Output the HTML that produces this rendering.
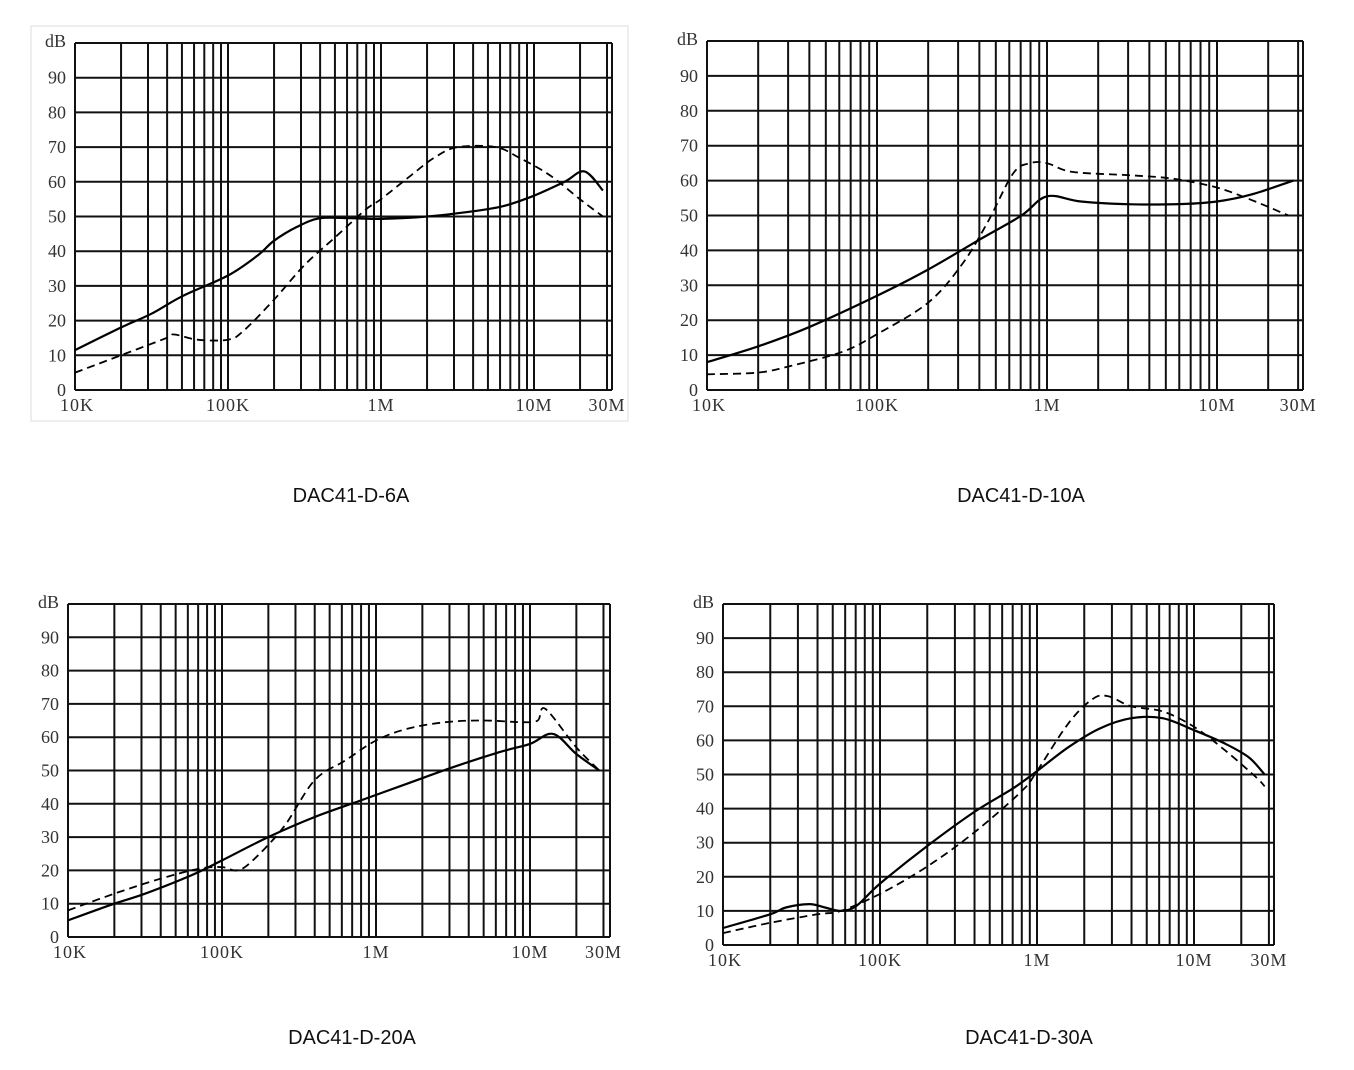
<!DOCTYPE html>
<html><head><meta charset="utf-8"><style>
html,body{margin:0;padding:0;background:#fff;}
svg{display:block;}
</style></head><body>
<svg id="s" width="1354" height="1070" xmlns="http://www.w3.org/2000/svg"></svg>
<script>
const s=document.getElementById('s');
let h='<rect x="31" y="26" width="597" height="395" fill="none" stroke="#ddd" stroke-width="1"/>';
const charts=[
{l:75,r:612,t:43,b:390,dec:153,title:'DAC41-D-6A',tx:351,ty:495,
 solid:[[0,11.5],[0.3,18],[0.5,22],[0.7,27],[1.0,33],[1.2,39],[1.3,43],[1.45,47],[1.6,49.5],[1.8,49.5],[2.0,49.3],[2.3,50],[2.6,51.5],[2.8,53],[3.0,56],[3.2,60],[3.33,63],[3.45,57.5]],
 dash:[[0,5],[0.3,10],[0.6,15],[0.65,16],[0.8,14.5],[1.0,14.5],[1.1,17],[1.3,26],[1.5,36],[1.7,44],[1.9,52],[2.0,55],[2.2,62],[2.35,67],[2.5,70],[2.75,70],[2.9,67],[3.1,62],[3.3,55],[3.45,50]]},
{l:707,r:1303,t:41,b:390,dec:170,title:'DAC41-D-10A',tx:1021,ty:495,
 solid:[[0,8],[0.3,12.5],[0.6,18],[1.0,27],[1.3,34.5],[1.6,43],[1.85,50],[2.0,55.5],[2.2,54],[2.5,53.2],[2.8,53.3],[3.0,54],[3.2,56],[3.45,60]],
 dash:[[0,4.5],[0.3,5],[0.5,7],[0.8,11],[1.0,16],[1.3,25],[1.5,36],[1.65,48],[1.8,62],[1.9,65],[2.0,65],[2.15,62.5],[2.5,61.5],[2.75,60.5],[3.0,58],[3.2,54.5],[3.42,50]]},
{l:68,r:610,t:604,b:937,dec:154,title:'DAC41-D-20A',tx:352,ty:1037,
 solid:[[0,5],[0.3,10],[0.5,13],[0.8,18.5],[1.0,23],[1.3,30],[1.6,36],[1.9,41],[2.2,46],[2.5,51],[2.8,55.5],[3.0,58],[3.15,61],[3.3,55],[3.45,50]],
 dash:[[0,8],[0.3,13],[0.6,17.5],[0.85,20.5],[1.0,21],[1.1,20],[1.2,23],[1.4,33],[1.6,47],[1.8,53],[2.0,59],[2.2,62.5],[2.45,64.5],[2.7,65],[2.95,64.5],[3.05,65],[3.1,68.5],[3.3,57],[3.45,50]]},
{l:723,r:1274,t:604,b:945,dec:157,title:'DAC41-D-30A',tx:1029,ty:1037,
 solid:[[0,5],[0.3,9],[0.4,11],[0.55,12],[0.65,11],[0.75,10],[0.85,11.5],[1.0,18],[1.3,29],[1.6,39],[1.85,46],[2.0,51],[2.2,58],[2.4,63.5],[2.6,66.5],[2.8,66.5],[3.0,63],[3.2,59],[3.35,55],[3.45,50]],
 dash:[[0,3.5],[0.3,6.5],[0.6,9],[0.75,10],[1.0,15],[1.3,23],[1.6,33],[1.9,45],[2.0,51],[2.2,65],[2.35,72],[2.45,73],[2.6,70],[2.8,68.5],[3.0,64],[3.2,57],[3.4,49],[3.45,46.5]]}
];
for(const c of charts){
 const X=d=>c.l+d*c.dec, Y=v=>c.b-(c.b-c.t)*v/100;
 for(let i=0;i<=10;i++){const y=Y(i*10);h+=`<line x1="${c.l}" x2="${c.r}" y1="${y}" y2="${y}" stroke="#111" stroke-width="2"/>`;}
 const xs=[c.l,c.r];
 for(let dcd=0;dcd<4;dcd++)for(let m=1;m<=9;m++){const d=dcd+Math.log10(m);if(d>0&&d<3.48)xs.push(X(d));}
 for(const x of xs)h+=`<line x1="${x}" x2="${x}" y1="${c.t}" y2="${c.b}" stroke="#111" stroke-width="2"/>`;
 const fs='font-family="Liberation Serif, serif" font-size="18" fill="#333"';
 for(let i=0;i<=9;i++)h+=`<text x="${c.l-9}" y="${Y(i*10)+6}" text-anchor="end" ${fs}>${i*10}</text>`;
 h+=`<text x="${c.l-9}" y="${c.t+4}" text-anchor="end" ${fs} font-size="15">dB</text>`;
 const xl=[['10K',0],['100K',1],['1M',2],['10M',3],['30M',3.477]];
 for(const [t,d] of xl)h+=`<text x="${X(d)+(d==0?2:0)}" y="${c.b+21}" text-anchor="middle" ${fs} letter-spacing="1">${t}</text>`;
 const path=pts=>{const P=pts.map(q=>[X(q[0]),Y(q[1])]);let p='M'+P[0][0].toFixed(1)+','+P[0][1].toFixed(1);
  for(let i=0;i<P.length-1;i++){const p0=P[Math.max(0,i-1)],p1=P[i],p2=P[i+1],p3=P[Math.min(P.length-1,i+2)];
   const c1=[p1[0]+(p2[0]-p0[0])/6,p1[1]+(p2[1]-p0[1])/6],c2=[p2[0]-(p3[0]-p1[0])/6,p2[1]-(p3[1]-p1[1])/6];
   p+=`C${c1[0].toFixed(1)},${c1[1].toFixed(1)} ${c2[0].toFixed(1)},${c2[1].toFixed(1)} ${p2[0].toFixed(1)},${p2[1].toFixed(1)}`;}
  return p;};
 h+=`<path d="${path(c.solid)}" fill="none" stroke="#000" stroke-width="2.2" stroke-linejoin="round"/>`;
 h+=`<path d="${path(c.dash)}" fill="none" stroke="#000" stroke-width="1.8" stroke-dasharray="8,5"/>`;
 h+=`<text x="${c.tx}" y="${c.ty+7}" text-anchor="middle" font-family="Liberation Sans, sans-serif" font-size="20" fill="#111">${c.title}</text>`;
}
s.innerHTML=h;
</script>
</body></html>
